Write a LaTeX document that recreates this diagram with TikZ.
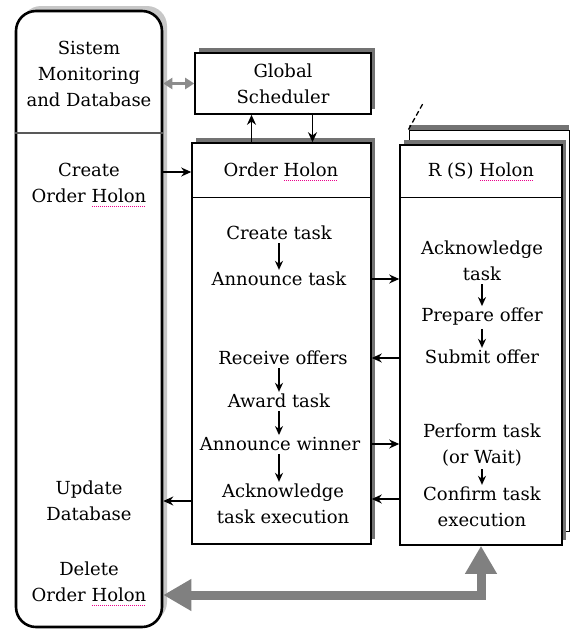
\documentclass[tikz,border=0pt]{standalone}
\usepackage{fontspec}
\setmainfont{DejaVu Serif}
\usetikzlibrary{arrows.meta,shadows}
% dotted spell-check mark under a word
\newcommand\spell[1]{\setbox0=\hbox{#1}\rlap{\raisebox{-4pt}{\textcolor{magenta}{\leaders\hbox to 2pt{\hss\rule{1pt}{0.8pt}\hss}\hskip\wd0}}}\box0}

\begin{document}
\begin{tikzpicture}[x=1pt, y=-1pt,
        panel/.style={draw, line width=2.6pt, rounded corners=20pt, fill=white, general shadow={fill=black!22, shadow xshift=5pt, shadow yshift=5pt}},
        block/.style={draw, line width=1.6pt, fill=white, inner sep=0pt, general shadow={fill=black!55, shadow xshift=4pt, shadow yshift=5pt}},
        backblock/.style={draw, line width=1pt, fill=white, inner sep=0pt, general shadow={fill=black!55, shadow xshift=0pt, shadow yshift=5pt}},
        txt/.style={align=center, font=\fontsize{18}{26}\selectfont, inner sep=1pt},
        item/.style={txt},
        arrow/.style={-{Stealth[length=10pt,width=9pt]}, line width=1.3pt},
        steparrow/.style={-{Stealth[length=9pt,width=8pt]}, line width=1.3pt, shorten <=2pt, shorten >=1pt},
        greyarrow/.style={{Triangle[length=9pt,width=11pt]}-{Triangle[length=9pt,width=11pt]}, line width=3pt, black!45},
        bigarrow/.style={{Triangle[length=28pt,width=30pt]}-{Triangle[length=28pt,width=30pt]}, line width=9pt, black!50}
    ]
    \useasboundingbox (0,0) rectangle (571,630);

    % left panel
    \node[panel, minimum width=146pt, minimum height=616pt] (panel) at (89,319) {};
    \coordinate (sep) at (89,133);
    \draw[line width=1.5pt, black!65] (panel.west |- sep) -- (panel.east |- sep);
    \node[txt] (sysmon) at (89,74) {Sistem\\Monitoring\\and Database};
    \node[txt] (create) at (89,185) {Create\\Order \spell{Holon}};
    \node[txt] (update) at (89,501) {Update\\Database};
    \node[txt] (delete) at (89,584) {Delete\\Order \spell{Holon}};

    % scheduler
    \node[block, minimum width=176pt, minimum height=61pt, txt] (gs) at (283,83.5) {Global\\Scheduler};

    % order holon
    \node[block, minimum width=179pt, minimum height=401pt] (oh) at (281.5,343.5) {};
    \coordinate (hdr) at (300,197);
    \draw[line width=1pt] (oh.west |- hdr) -- (oh.east |- hdr);
    \node[txt] (ohtitle) at (281,172) {Order \spell{Holon}};
    \node[item] (ctask) at (279,233) {Create task};
    \node[item] (atask) at (279,279) {Announce task};
    \node[item] (receive) at (283,358) {Receive offers};
    \node[item] (award) at (279,401) {Award task};
    \node[item] (winner) at (280,444) {Announce winner};
    \node[item] (ack) at (283,504) {Acknowledge\\task execution};

    % resource holons
    \node[backblock, minimum width=160pt, minimum height=401pt] (rsback) at (489,330.5) {};
    \draw[line width=1.3pt, dash pattern=on 5pt off 3pt] (rsback.north west) -- ++(15,-27);
    \node[block, minimum width=162pt, minimum height=400pt] (rs) at (481,345) {};
    \draw[line width=1pt] (rs.west |- hdr) -- (rs.east |- hdr);
    \node[txt] (rstitle) at (481,172) {R (S) \spell{Holon}};
    \node[item] (rack) at (482,261) {Acknowledge\\task};
    \node[item] (prepare) at (482,317) {Prepare offer};
    \node[item] (submit) at (482,357) {Submit offer};
    \node[item] (perform) at (482,445) {Perform task\\(or Wait)};
    \node[item] (confirm) at (482,507) {Confirm task\\execution};

    \draw[steparrow] (ctask) -- (atask);
    \draw[steparrow] (receive.south -| award) -- (award);
    \draw[steparrow] (award) -- (award |- winner.north);
    \draw[steparrow] (award |- winner.south) -- (award |- ack.north);
    \draw[steparrow] (rack) -- (prepare);
    \draw[steparrow] (prepare) -- (submit);
    \draw[steparrow] (perform) -- (confirm);

    \draw[greyarrow] (panel.east |- gs) -- (gs.west);
    \draw[arrow] ([xshift=-30pt]oh.north) -- ([xshift=-30pt]oh.north |- gs.south);
    \draw[arrow] ([xshift=31pt]oh.north |- gs.south) -- ([xshift=31pt]oh.north);
    \draw[arrow] (panel.east |- ohtitle) -- (oh.west |- ohtitle);
    \draw[arrow] (oh.west |- update) -- (panel.east |- update);
    \draw[arrow] (oh.east |- atask) -- (rs.west |- atask);
    \draw[arrow] (rs.west |- receive) -- (oh.east |- receive);
    \draw[arrow] (oh.east |- winner) -- (rs.west |- winner);
    \draw[arrow] (rs.west |- 0,499) -- (oh.east |- 0,499);

    \coordinate (ret) at (320,595);
    \draw[bigarrow] (rs.south) -- (rs.south |- ret) -- (panel.east |- ret);
\end{tikzpicture}
\end{document}
